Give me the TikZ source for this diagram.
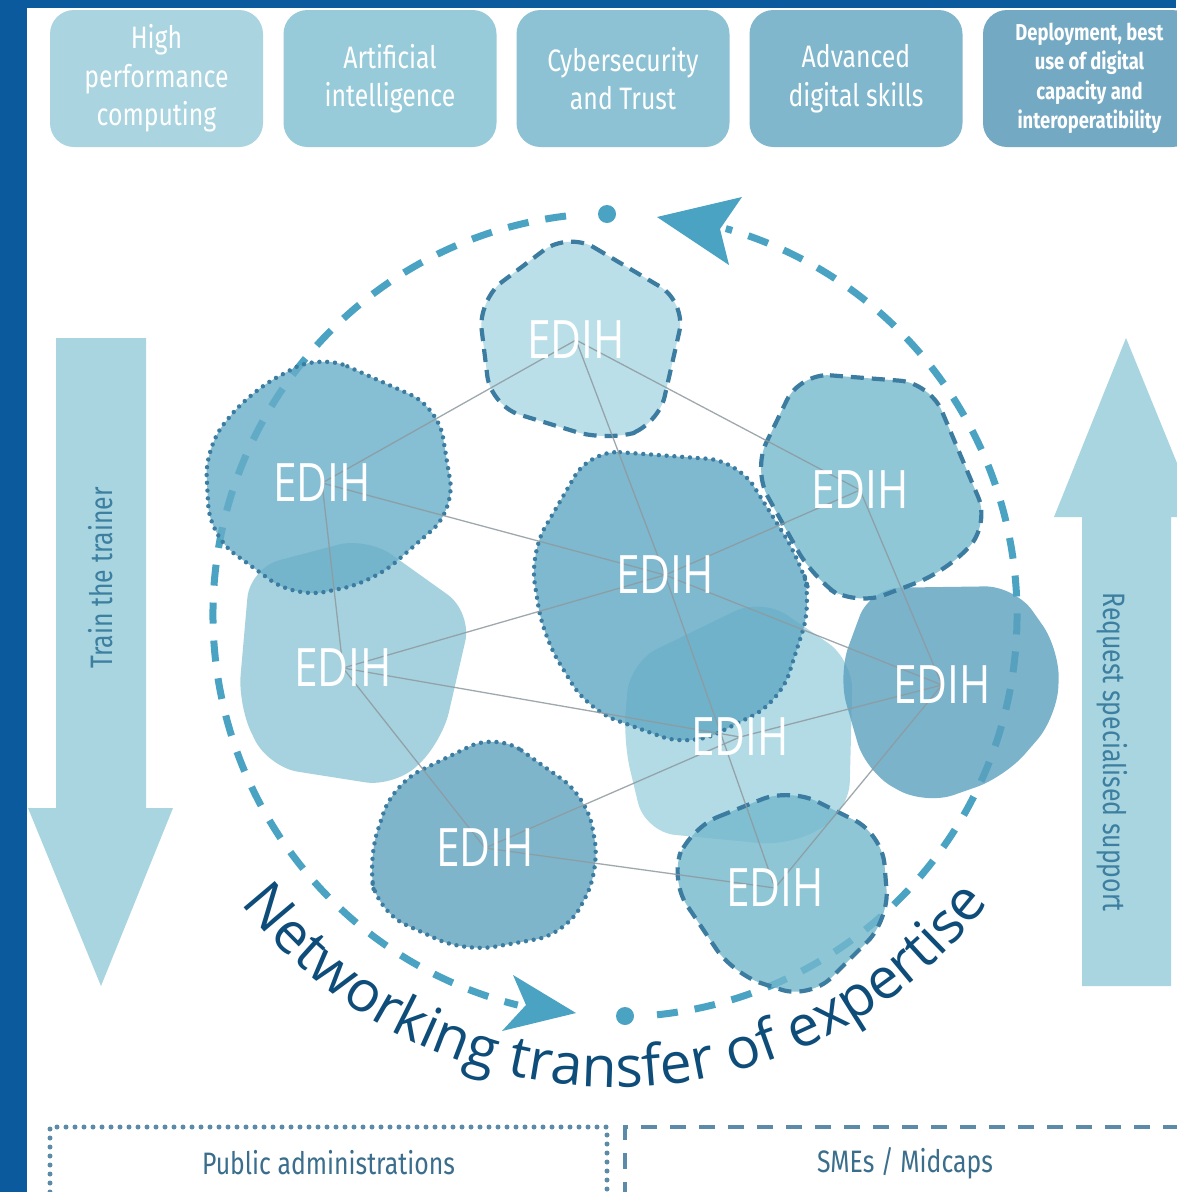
\documentclass[tikz,border=0pt]{standalone}
\usepackage{fontspec}
\setmainfont{Fira Sans}
\newfontfamily\boxfont[FakeStretch=0.8]{Fira Sans}
\newfontfamily\edihfont[FakeStretch=0.8]{Open Sans}
\newfontfamily\netfont{Open Sans}
\usetikzlibrary{decorations.text}
\definecolor{bgblue}{HTML}{0B5A9E}
\definecolor{boxA}{HTML}{A9D4E0}
\definecolor{boxB}{HTML}{98CBD9}
\definecolor{boxC}{HTML}{8CC2D4}
\definecolor{boxD}{HTML}{80B7CC}
\definecolor{boxE}{HTML}{74A9C4}
\definecolor{circ}{HTML}{4AA3C2}
\definecolor{edgeD}{HTML}{3B7CA0}
\definecolor{txtdark}{HTML}{0E4D7A}
\definecolor{arrowfill}{HTML}{A8D5E0}
\definecolor{arrowtxt}{HTML}{3D7FA0}
\definecolor{linegray}{HTML}{8E9A9F}
\definecolor{bottomline}{HTML}{5B8BA8}
\definecolor{bottomtxt}{HTML}{3A6E8C}
\definecolor{hTop}{HTML}{ABD7E3}
\definecolor{hUL}{HTML}{68AEC8}
\definecolor{hCen}{HTML}{60A8C3}
\definecolor{hUR}{HTML}{74B9CD}
\definecolor{hLM}{HTML}{90C7D8}
\definecolor{hBL}{HTML}{5FA3BF}
\definecolor{hCB}{HTML}{A1D2E0}
\definecolor{hR}{HTML}{5BA0BE}
\definecolor{hBR}{HTML}{73B8CC}
\pgfdeclarelayer{base}
\pgfdeclarelayer{shapes}
\pgfdeclarelayer{linklayer}
\pgfsetlayers{base,shapes,linklayer,main}
\tikzset{
  topbox/.style={rectangle, rounded corners=24pt, minimum width=213pt, minimum height=137pt,
    text=white, align=center, inner sep=0pt, font=\boxfont\fontsize{31}{38.5}\selectfont},
  hub/.style={fill opacity=0.8, rounded corners=30pt},
  dotb/.style={draw=edgeD, line width=4.4pt, dash pattern=on 0pt off 7.8pt, line cap=round},
  dashb/.style={draw=edgeD, line width=4.2pt, dash pattern=on 13pt off 8pt},
  circdash/.style={draw=circ, line width=7pt, dash pattern=on 21pt off 17pt},
  edih/.style={text=white, inner sep=0pt, font=\edihfont\fontsize{53}{56}\selectfont},
  link/.style={draw=linegray, line width=1.3pt, opacity=0.85},
  arrowlabel/.style={text=arrowtxt, inner sep=0pt, font=\boxfont\fontsize{31}{36}\selectfont},
  bottombox/.style={rectangle, minimum height=72pt, inner sep=0pt, text=bottomtxt,
    font=\boxfont\fontsize{31}{36}\selectfont},
}
\begin{document}
\begin{tikzpicture}[x=1pt,y=1pt]
\useasboundingbox (0,0) rectangle (1176,-1192);
\begin{pgfonlayer}{base}
\fill[bgblue] (0,0) rectangle (1176,-1192);
\fill[white] (27,-8) rectangle (1180,-1196);
\coordinate (C) at (615,-615);
% circle
\draw[circdash] (C) ++(97:402) arc (97:256:402);
\draw[circdash] (C) ++(276:402) arc (276:434:402);
\fill[circ] (607,-214) circle (9);
\fill[circ] (625,-1016) circle (9);
\fill[circ] (576,-1013) -- (513,-975) -- (526,-1005) -- (502,-1031) -- cycle;
\fill[circ] (657,-217) -- (742,-197) -- (720,-229) -- (729,-265) -- cycle;
\end{pgfonlayer}
\begin{pgfonlayer}{shapes}
\fill[hub, hCB] (630,-662) -- (762,-598) -- (853,-660) -- (849,-812) -- (790,-846) -- (645,-832) -- (623,-740) -- cycle;
\fill[hub, hLM] (250,-568) -- (367,-537) -- (472,-612) -- (442,-742) -- (395,-787) -- (268,-767) -- (238,-705) -- cycle;
\fill[hub, hR] (870,-588) -- (1015,-586) -- (1060,-650) -- (1057,-717) -- (1005,-777) -- (925,-805) -- (866,-772) -- (838,-675) -- cycle;
\path[hub, fill=hTop, dashb] (568,-232) -- (686,-302) -- (658,-426) -- (606,-441) -- (491,-406) -- (478,-300) -- cycle;
\path[hub, fill=hCen, dotb] (590,-450) -- (738,-461) -- (800,-560) -- (812,-602) -- (780,-702) -- (690,-747) -- (588,-710) -- (543,-636) -- (530,-553) -- cycle;
\path[hub, fill=hUR, dashb] (800,-373) -- (930,-383) -- (990,-525) -- (945,-572) -- (855,-606) -- (813,-578) -- (753,-470) -- cycle;
\path[hub, fill=hUL, dotb] (320,-354) -- (438,-407) -- (455,-510) -- (373,-582) -- (295,-598) -- (210,-536) -- (205,-447) -- (250,-392) -- cycle;
\path[hub, fill=hBL, dotb] (497,-733) -- (587,-797) -- (600,-870) -- (566,-934) -- (465,-952) -- (378,-912) -- (368,-860) -- (393,-784) -- cycle;
\path[hub, fill=hBR, dashb] (690,-828) -- (790,-788) -- (882,-834) -- (889,-920) -- (810,-999) -- (733,-974) -- (670,-880) -- cycle;
\end{pgfonlayer}
% EDIH labels
\node[edih] (top) at (576,-340) {EDIH};
\node[edih] (ul) at (322,-483) {EDIH};
\node[edih] (cen) at (665,-575) {EDIH};
\node[edih] (ur) at (860,-490) {EDIH};
\node[edih] (lm) at (343,-668) {EDIH};
\node[edih] (cb) at (740,-737) {EDIH};
\node[edih] (rt) at (942,-685) {EDIH};
\node[edih] (bl) at (485,-848) {EDIH};
\node[edih] (br) at (775,-888) {EDIH};
\begin{pgfonlayer}{linklayer}
\draw[link] (top.center) -- (ul.center);
\draw[link] (top.center) -- (cen.center);
\draw[link] (top.center) -- (ur.center);
\draw[link] (ul.center) -- (cen.center);
\draw[link] (ul.center) -- (lm.center);
\draw[link] (cen.center) -- (ur.center);
\draw[link] (cen.center) -- (rt.center);
\draw[link] (cen.center) -- (br.center);
\draw[link] (lm.center) -- (cen.center);
\draw[link] (lm.center) -- (cb.center);
\draw[link] (lm.center) -- (bl.center);
\draw[link] (bl.center) -- (cb.center);
\draw[link] (bl.center) -- (br.center);
\draw[link] (ur.center) -- (rt.center);
\draw[link] (rt.center) -- (cb.center);
\draw[link] (rt.center) -- (br.center);
\end{pgfonlayer}
% top boxes
\node[topbox, fill=boxA] (b1) at (156.5,-78.5) {High\\performance\\computing};
\node[topbox, fill=boxB] (b2) at (390,-78.5) {Artificial\\intelligence};
\node[topbox, fill=boxC] (b3) at (623,-78.5) {Cybersecurity\\and Trust};
\node[topbox, fill=boxD] (b4) at (856,-78.5) {Advanced\\digital skills};
\node[topbox, fill=boxE, font=\boxfont\bfseries\fontsize{23}{29.5}\selectfont] (b5) at (1089.5,-78.5) {Deployment, best\\use of digital\\capacity and\\interoperatibility};
% side arrows
\fill[arrowfill] (56,-338) -- (146,-338) -- (146,-808) -- (173,-808) -- (101,-986) -- (28,-808) -- (56,-808) -- cycle;
\node[arrowlabel, rotate=90] (trainlbl) at (101,-578) {Train the trainer};
\fill[arrowfill] (1126,-338) -- (1199,-517) -- (1171,-517) -- (1171,-986) -- (1082,-986) -- (1082,-517) -- (1054,-517) -- cycle;
\node[arrowlabel, rotate=-90] (reqlbl) at (1112,-752) {Request specialised support};
% curved text
\path[decorate, decoration={text along path, text align=center, text color=txtdark,
  text={|\netfont\fontsize{57}{60}\selectfont|Networking transfer of expertise}}]
  (C) ++(200:472) arc (200:340:472);
% bottom boxes
\node[bottombox, minimum width=557pt, draw=bottomline, line width=5pt, dash pattern=on 0pt off 9pt, line cap=round] (pa) at (328.5,-1163) {Public administrations};
\node[bottombox, minimum width=560pt, draw=bottomline, line width=4.5pt, dash pattern=on 16pt off 13pt] (sme) at (905,-1163) {SMEs / Midcaps};
\end{tikzpicture}
\end{document}
